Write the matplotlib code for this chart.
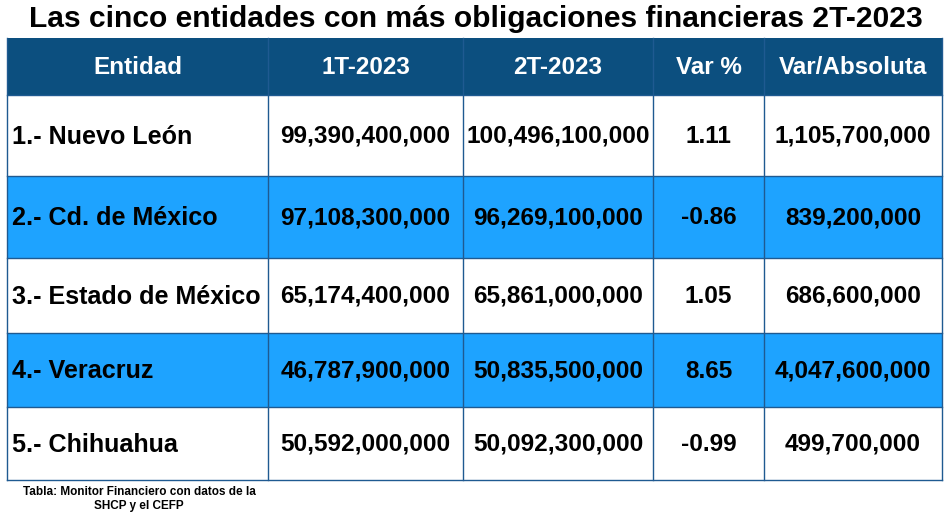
import matplotlib
matplotlib.use("Agg")
import matplotlib.pyplot as plt
from matplotlib.patches import Rectangle

plt.rcParams['font.family'] = ['Liberation Sans', 'DejaVu Sans']

title = "Las cinco entidades con más obligaciones financieras 2T-2023"
headers = ["Entidad", "1T-2023", "2T-2023", "Var %", "Var/Absoluta"]
entidades = ["1.- Nuevo León", "2.- Cd. de México", "3.- Estado de México", "4.- Veracruz", "5.- Chihuahua"]
t1_2023 = [99390400000, 97108300000, 65174400000, 46787900000, 50592000000]
t2_2023 = [100496100000, 96269100000, 65861000000, 50835500000, 50092300000]
var_pct = [1.11, -0.86, 1.05, 8.65, -0.99]
var_abs = [1105700000, 839200000, 686600000, 4047600000, 499700000]
source = "Tabla: Monitor Financiero con datos de la\nSHCP y el CEFP"

W, H = 952, 525
fig = plt.figure(figsize=(W / 100, H / 100), dpi=100)
ax = fig.add_axes([0, 0, 1, 1])
ax.set_xlim(0, W)
ax.set_ylim(H, 0)
ax.axis('off')

col_x = [7, 268, 463, 653, 764, 942]
row_y = [38, 95, 176, 258, 333, 407, 480]
header_color = "#0C4F7F"
hl_color = "#1EA3FF"
border = "#1F5A91"

ax.text(476, 19, title, ha='center', va='center', fontsize=21.6, fontweight='bold', color='black')

# header
ax.add_patch(Rectangle((col_x[0], row_y[0]), col_x[-1] - col_x[0], row_y[1] - row_y[0],
                       facecolor=header_color, edgecolor='none'))
for j, h in enumerate(headers):
    cx = (col_x[j] + col_x[j + 1]) / 2
    ax.text(cx, (row_y[0] + row_y[1]) / 2 + 1, h, ha='center', va='center',
            fontsize=17.5, fontweight='bold', color='white')

for i in range(5):
    y0, y1 = row_y[i + 1], row_y[i + 2]
    fc = hl_color if i % 2 == 1 else 'white'
    ax.add_patch(Rectangle((col_x[0], y0), col_x[-1] - col_x[0], y1 - y0, facecolor=fc, edgecolor='none'))
    cy = (y0 + y1) / 2 + 1
    vals = [entidades[i], f"{t1_2023[i]:,}", f"{t2_2023[i]:,}", f"{var_pct[i]:.2f}", f"{var_abs[i]:,}"]
    for j, v in enumerate(vals):
        if j == 0:
            ax.text(col_x[0] + 5, cy, v, ha='left', va='center', fontsize=18.1, fontweight='bold', color='black')
        else:
            cx = (col_x[j] + col_x[j + 1]) / 2
            ax.text(cx, cy, v, ha='center', va='center', fontsize=17.6, fontweight='bold', color='black')

# grid lines
for y in row_y[1:]:
    ax.plot([col_x[0], col_x[-1]], [y, y], color=border, lw=1.0)
for x in col_x:
    ax.plot([x, x], [row_y[0], row_y[-1]], color=border, lw=1.0)

ax.text(139, 499, source, ha='center', va='center', fontsize=8.5, fontweight='bold', color='black',
        linespacing=1.3)

fig.savefig("out.png", dpi=100)
